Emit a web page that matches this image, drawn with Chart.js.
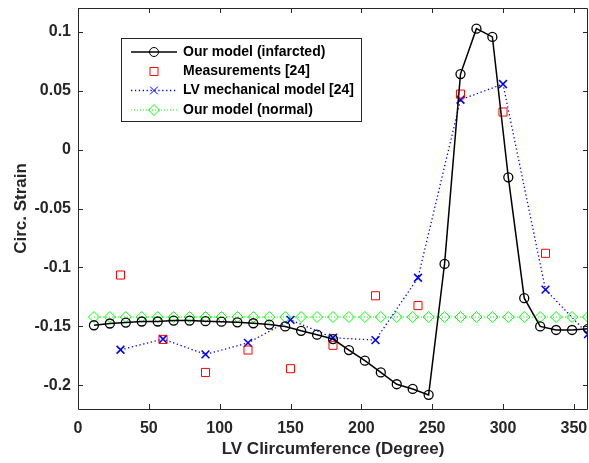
<!DOCTYPE html>
<html>
<head>
<meta charset="utf-8">
<script src="https://cdn.jsdelivr.net/npm/chart.js@4.4.1/dist/chart.umd.min.js"></script>
<style>
  html, body { margin: 0; padding: 0; background: #fff; }
  #wrap { width: 589px; height: 463px; }
</style>
</head>
<body>
<div id="wrap"><canvas id="strainChart" width="589" height="463"></canvas></div>
<script>
// angles (degree) and circ. strain values
const infAngles = [11.25, 22.5, 33.75, 45, 56.25, 67.5, 78.75, 90, 101.25, 112.5, 123.75, 135,
    146.25, 157.5, 168.75, 180, 191.25, 202.5, 213.75, 225, 236.25, 247.5, 258.75, 270,
    281.25, 292.5, 303.75, 315, 326.25, 337.5, 348.75, 360];
const infarcted = [-0.149, -0.1475, -0.1467, -0.1458, -0.1458, -0.145, -0.145, -0.1455, -0.146, -0.1465, -0.1473, -0.1484,
    -0.150, -0.1537, -0.157, -0.1607, -0.170, -0.179, -0.189, -0.199, -0.203, -0.208, -0.097, 0.064,
    0.1025, 0.0955, -0.0236, -0.126, -0.150, -0.153, -0.153, -0.152];
const normal = [-0.142, -0.142, -0.142, -0.142, -0.142, -0.142, -0.142, -0.142, -0.142, -0.142, -0.142, -0.142,
    -0.142, -0.142, -0.142, -0.142, -0.142, -0.142, -0.142, -0.142, -0.142, -0.142, -0.142, -0.142,
    -0.142, -0.142, -0.142, -0.142, -0.142, -0.142, -0.142, -0.142];

const measAngles = [30, 60, 90, 120, 150, 180, 210, 240, 270, 300, 330];
const measurements = [-0.1064, -0.161, -0.189, -0.170, -0.1858, -0.166, -0.124, -0.1323, 0.047, 0.0318, -0.088];

const lvAngles = [30, 60, 90, 120, 150, 180, 210, 240, 270, 300, 330, 360];
const lvModel = [-0.1698, -0.1607, -0.1737, -0.1639, -0.1444, -0.1596, -0.1616, -0.1087, 0.0422, 0.0555, -0.1188, -0.1565];

const xTicks = [0, 50, 100, 150, 200, 250, 300, 350];
const yTicks = [-0.2, -0.15, -0.1, -0.05, 0, 0.05, 0.1];

const labels = ['Our model (infarcted)', 'Measurements [24]', 'LV mechanical model [24]', 'Our model (normal)'];

const axisColor = '#262626';
const pts = (xs, ys) => xs.map((x, i) => ({ x: x, y: ys[i] }));

function noPad(s) {
    s.paddingTop = 0; s.paddingBottom = 0;
    s.paddingLeft = 0; s.paddingRight = 0;
}

// MATLAB style box with inward ticks
const boxPlugin = {
    id: 'box',
    afterDatasetsDraw(chart) {
        const ctx = chart.ctx;
        const a = chart.chartArea;
        const xs = chart.scales.x, ys = chart.scales.y;
        ctx.save();
        ctx.strokeStyle = axisColor;
        ctx.lineWidth = 1;
        ctx.beginPath();
        ctx.rect(Math.round(a.left) + 0.5, Math.round(a.top) + 0.5,
            Math.round(a.right - a.left) - 1, Math.round(a.bottom - a.top));
        xTicks.forEach(v => {
            const px = Math.round(xs.getPixelForValue(v)) + 0.5;
            ctx.moveTo(px, a.bottom); ctx.lineTo(px, a.bottom - 5);
            ctx.moveTo(px, a.top); ctx.lineTo(px, a.top + 5);
        });
        yTicks.forEach(v => {
            const py = Math.round(ys.getPixelForValue(v)) + 0.5;
            ctx.moveTo(a.left, py); ctx.lineTo(a.left + 5, py);
            ctx.moveTo(a.right, py); ctx.lineTo(a.right - 5, py);
        });
        ctx.stroke();
        ctx.restore();
    }
};

// legend box in the upper left, like the figure
const legendPlugin = {
    id: 'boxLegend',
    afterDraw(chart) {
        const ctx = chart.ctx;
        const left = 121.5, top = 38.5, right = 361.5, bottom = 121.5;
        const rows = [52, 71.5, 90.5, 110];
        ctx.save();
        ctx.fillStyle = '#fff';
        ctx.strokeStyle = axisColor;
        ctx.lineWidth = 1;
        ctx.fillRect(left, top, right - left, bottom - top);
        ctx.strokeRect(left, top, right - left, bottom - top);

        chart.data.datasets.forEach((ds, i) => {
            const y = rows[i];
            if (ds.showLine !== false) {
                ctx.save();
                ctx.strokeStyle = ds.borderColor;
                ctx.lineWidth = ds.borderWidth;
                ctx.setLineDash(ds.borderDash || []);
                ctx.beginPath();
                ctx.moveTo(131, y);
                ctx.lineTo(177, y);
                ctx.stroke();
                ctx.restore();
            }
            ctx.save();
            ctx.strokeStyle = ds.pointBorderColor;
            ctx.fillStyle = 'rgba(0,0,0,0)';
            Chart.helpers.drawPoint(ctx, {
                pointStyle: ds.pointStyle,
                radius: ds.pointRadius,
                rotation: 0,
                borderWidth: ds.pointBorderWidth
            }, 154, y);
            ctx.restore();

            ctx.fillStyle = '#000';
            ctx.font = 'bold 14px "Liberation Sans", Arial, sans-serif';
            ctx.textBaseline = 'middle';
            ctx.textAlign = 'left';
            ctx.fillText(labels[i], 183, y);
        });
        ctx.restore();
    }
};

new Chart(document.getElementById('strainChart'), {
    type: 'line',
    data: {
        datasets: [{
            label: labels[0],
            data: pts(infAngles, infarcted),
            borderColor: '#000000',
            borderWidth: 1.5,
            pointStyle: 'circle',
            pointRadius: 4.5,
            pointBorderWidth: 1.3,
            pointBorderColor: '#000000',
            pointBackgroundColor: 'rgba(0,0,0,0)'
        }, {
            label: labels[1],
            data: pts(measAngles, measurements),
            showLine: false,
            pointStyle: 'rect',
            pointRadius: 5.7,
            pointBorderWidth: 1,
            borderColor: '#ff0000',
            pointBorderColor: '#ff0000',
            pointBackgroundColor: 'rgba(0,0,0,0)'
        }, {
            label: labels[2],
            data: pts(lvAngles, lvModel),
            borderColor: '#0000ff',
            borderWidth: 1.3,
            borderDash: [1.3, 2.6],
            pointStyle: 'crossRot',
            pointRadius: 5.5,
            pointBorderWidth: 1.6,
            pointBorderColor: '#0000ff',
            pointBackgroundColor: 'rgba(0,0,0,0)'
        }, {
            label: labels[3],
            data: pts(infAngles, normal),
            borderColor: '#00ff00',
            borderWidth: 1,
            borderDash: [1, 2],
            pointStyle: 'rectRot',
            pointRadius: 5.5,
            pointBorderWidth: 1,
            pointBorderColor: '#00ff00',
            pointBackgroundColor: 'rgba(0,0,0,0)'
        }]
    },
    options: {
        responsive: false,
        animation: false,
        layout: { autoPadding: false, padding: { top: 8, right: 1, left: 0, bottom: 0 } },
        plugins: {
            legend: { display: false },
            tooltip: { enabled: false }
        },
        scales: {
            x: {
                type: 'linear',
                min: 0,
                max: 360,
                afterBuildTicks: s => { s.ticks = xTicks.map(v => ({ value: v })); },
                afterFit: s => { s.height = 54; noPad(s); },
                grid: { display: false, drawTicks: false },
                border: { display: false },
                ticks: {
                    color: axisColor,
                    padding: 10,
                    maxRotation: 0,
                    font: { family: '"Liberation Sans", Arial, sans-serif', size: 16, weight: 'bold' }
                },
                title: {
                    display: true,
                    text: 'LV Clircumference (Degree)',
                    color: axisColor,
                    padding: { top: 0, bottom: 3 },
                    font: { family: '"Liberation Sans", Arial, sans-serif', size: 17, weight: 'bold' }
                }
            },
            y: {
                min: -0.22,
                max: 0.12,
                afterBuildTicks: s => { s.ticks = yTicks.map(v => ({ value: v })); },
                afterFit: s => { s.width = 78; noPad(s); },
                grid: { display: false, drawTicks: false },
                border: { display: false },
                ticks: {
                    color: axisColor,
                    padding: 7,
                    callback: v => String(Math.round(v * 100) / 100),
                    font: { family: '"Liberation Sans", Arial, sans-serif', size: 16, weight: 'bold' }
                },
                title: {
                    display: true,
                    text: 'Circ. Strain',
                    color: axisColor,
                    padding: { top: 11, bottom: 0 },
                    font: { family: '"Liberation Sans", Arial, sans-serif', size: 17, weight: 'bold' }
                }
            }
        }
    },
    plugins: [boxPlugin, legendPlugin]
});
</script>
</body>
</html>
